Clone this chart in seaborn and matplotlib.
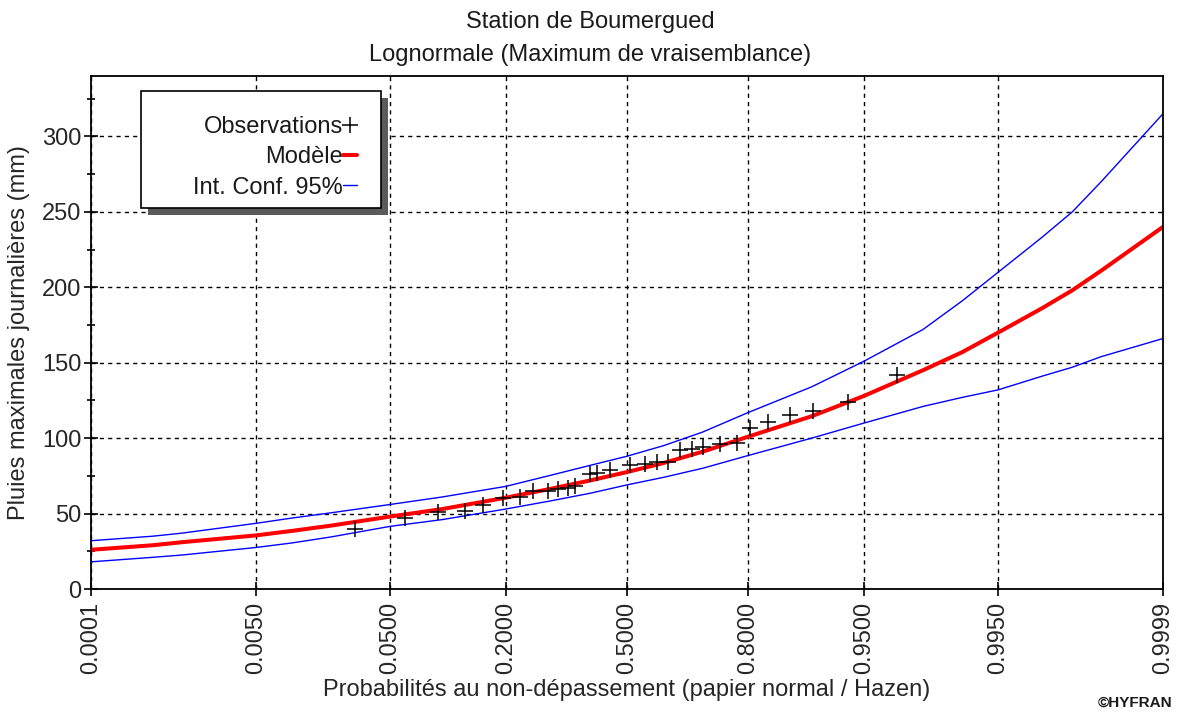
from statistics import NormalDist

import matplotlib

matplotlib.use("Agg")
import matplotlib.pyplot as plt  # noqa: E402
import numpy as np  # noqa: E402
import pandas as pd  # noqa: E402
import seaborn as sns  # noqa: E402
from matplotlib.lines import Line2D  # noqa: E402
from matplotlib.patches import Rectangle  # noqa: E402
from matplotlib.ticker import FixedLocator, MultipleLocator  # noqa: E402

# observations: non-exceedance probability (Hazen) and daily max rainfall (mm)
obs_prob = [0.0295, 0.0617, 0.0948, 0.1305, 0.159, 0.1947, 0.229, 0.257, 0.292, 0.316,
            0.341, 0.359, 0.399, 0.418, 0.453, 0.508, 0.550, 0.582, 0.612, 0.644,
            0.674, 0.701, 0.741, 0.777, 0.803, 0.836, 0.871, 0.902, 0.937, 0.9695]
obs_rain = [40, 47, 51, 52, 56, 60, 61, 65, 65, 66,
            67, 68, 76, 77, 79, 82, 83, 84, 84, 92,
            93, 94, 96, 97, 107, 111, 115, 118, 124, 142]

# fitted lognormal quantiles + 95% confidence band
curve_prob = [0.0001, 0.0005, 0.001, 0.005, 0.01, 0.02, 0.05, 0.1, 0.2, 0.3, 0.4, 0.5,
              0.6, 0.7, 0.8, 0.9, 0.95, 0.98, 0.99, 0.995, 0.998, 0.999, 0.9995, 0.9999]
model = [26, 29, 31, 35.5, 38.5, 42, 48, 53, 60.5, 66.5, 72, 77.5,
         83.5, 91, 101, 114.5, 128, 145, 157, 170, 186, 198, 211, 240]
ci_upper = [32, 35, 37, 43.5, 47, 50.5, 56, 61, 68, 75.5, 82, 88,
            95, 104, 117, 134, 151, 172, 191, 210, 233, 250, 270, 315]
ci_lower = [18, 21, 22.5, 27.5, 30.5, 34.5, 41.5, 46, 53, 58.5, 63.5, 69,
            74, 80, 88.5, 100, 110, 121, 127, 132, 141, 147, 154, 166]

prob_ticks = [0.0001, 0.005, 0.05, 0.2, 0.5, 0.8, 0.95, 0.995, 0.9999]
prob_labels = ["0.0001", "0.0050", "0.0500", "0.2000", "0.5000",
               "0.8000", "0.9500", "0.9950", "0.9999"]

FS = 17
AX_W, AX_H = 1163 - 91, 589 - 76  # axes size in px, for placing the legend box


def ax_xy(px, py):
    # figure pixel (from top-left) -> axes fraction
    return (px - 91) / AX_W, (589 - py) / AX_H


_nd = NormalDist()
_ppf = np.vectorize(lambda p: _nd.inv_cdf(min(max(p, 1e-12), 1 - 1e-12)), otypes=[float])
_cdf = np.vectorize(_nd.cdf, otypes=[float])

sns.set_theme(style="white")
plt.rcParams["font.family"] = ["Liberation Sans", "DejaVu Sans"]
plt.rcParams["text.color"] = "#1a1a1a"

fig = plt.figure(figsize=(11.81, 7.13), dpi=100)
ax = fig.add_axes([91 / 1181, 1 - 589 / 713, AX_W / 1181, AX_H / 713])
ax.set_xscale("function", functions=(_ppf, _cdf))

curves = pd.DataFrame({"p": curve_prob, "model": model, "up": ci_upper, "lo": ci_lower})
obs = pd.DataFrame({"p": obs_prob, "rain": obs_rain})

sns.lineplot(data=curves, x="p", y="up", ax=ax, color="#0000ff", lw=1.0, sort=False, estimator=None)
sns.lineplot(data=curves, x="p", y="lo", ax=ax, color="#0000ff", lw=1.0, sort=False, estimator=None)
sns.lineplot(data=curves, x="p", y="model", ax=ax, color="#ff0000", lw=2.9, sort=False, estimator=None)
sns.scatterplot(data=obs, x="p", y="rain", ax=ax, marker="+", s=140, color="black",
                linewidth=1.1, zorder=4)

ax.set_xlim(0.0001, 0.9999)
ax.set_ylim(0, 340)
ax.xaxis.set_major_locator(FixedLocator(prob_ticks))
ax.xaxis.set_minor_locator(FixedLocator([]))
ax.set_xticklabels(prob_labels, rotation=90, fontsize=FS)
ax.yaxis.set_major_locator(MultipleLocator(50))
ax.yaxis.set_minor_locator(MultipleLocator(25))
ax.tick_params(axis="y", labelsize=FS)
ax.tick_params(which="both", direction="inout", color="black", width=1.2, left=True, bottom=True)
ax.tick_params(which="major", length=10)
ax.tick_params(which="minor", length=6)
ax.tick_params(axis="x", pad=4)
ax.tick_params(axis="y", pad=2)
for s in ax.spines.values():
    s.set_color("black")
    s.set_linewidth(1.3)
ax.grid(True, which="major", color="black", linestyle=(0, (3, 3)), linewidth=1.0)

ax.set_xlabel("Probabilités au non-dépassement (papier normal / Hazen)", fontsize=FS)
ax.set_ylabel("Pluies maximales journalières (mm)", fontsize=FS)
ax.xaxis.set_label_coords(0.5, (589 - 690) / AX_H)
ax.xaxis.label.set_va("center")
ax.yaxis.set_label_coords((19 - 91) / AX_W, 0.5)
ax.yaxis.label.set_va("center")
fig.text(0.5, 1 - 22 / 713, "Station de Boumergued", ha="center", va="center", fontsize=FS)
fig.text(0.5, 1 - 55 / 713, "Lognormale (Maximum de vraisemblance)", ha="center", va="center", fontsize=FS)
fig.text(1172 / 1181, 1 - 703 / 713, "©HYFRAN", ha="right", va="center", fontsize=11, fontweight="bold")

# legend: box + drop shadow drawn by hand, entries right aligned with the key after the text
bx, by = ax_xy(141, 208)
bw, bh = 240 / AX_W, 117 / AX_H
ax.add_patch(Rectangle((bx + 7 / AX_W, by - 7 / AX_H), bw, bh, transform=ax.transAxes,
                       facecolor="#5a5a5a", edgecolor="none", zorder=5.5, clip_on=False))
ax.add_patch(Rectangle((bx, by), bw, bh, transform=ax.transAxes, facecolor="white",
                       edgecolor="black", linewidth=1.2, zorder=5.6, clip_on=False))

handles = [Line2D([], [], marker="+", ls="", color="black", ms=12, mew=1.1),
           Line2D([], [], color="#ff0000", lw=2.9),
           Line2D([], [], color="#0000ff", lw=1.0)]
leg = ax.legend(handles, ["Observations", "Modèle", "Int. Conf. 95%"],
                loc="upper right", bbox_to_anchor=ax_xy(357, 116),
                borderaxespad=0, markerfirst=False, fontsize=FS, handlelength=0.6,
                handletextpad=0.0, labelspacing=0.35, borderpad=0, frameon=False)
leg.set_zorder(6)

fig.savefig("out.png", dpi=100)
